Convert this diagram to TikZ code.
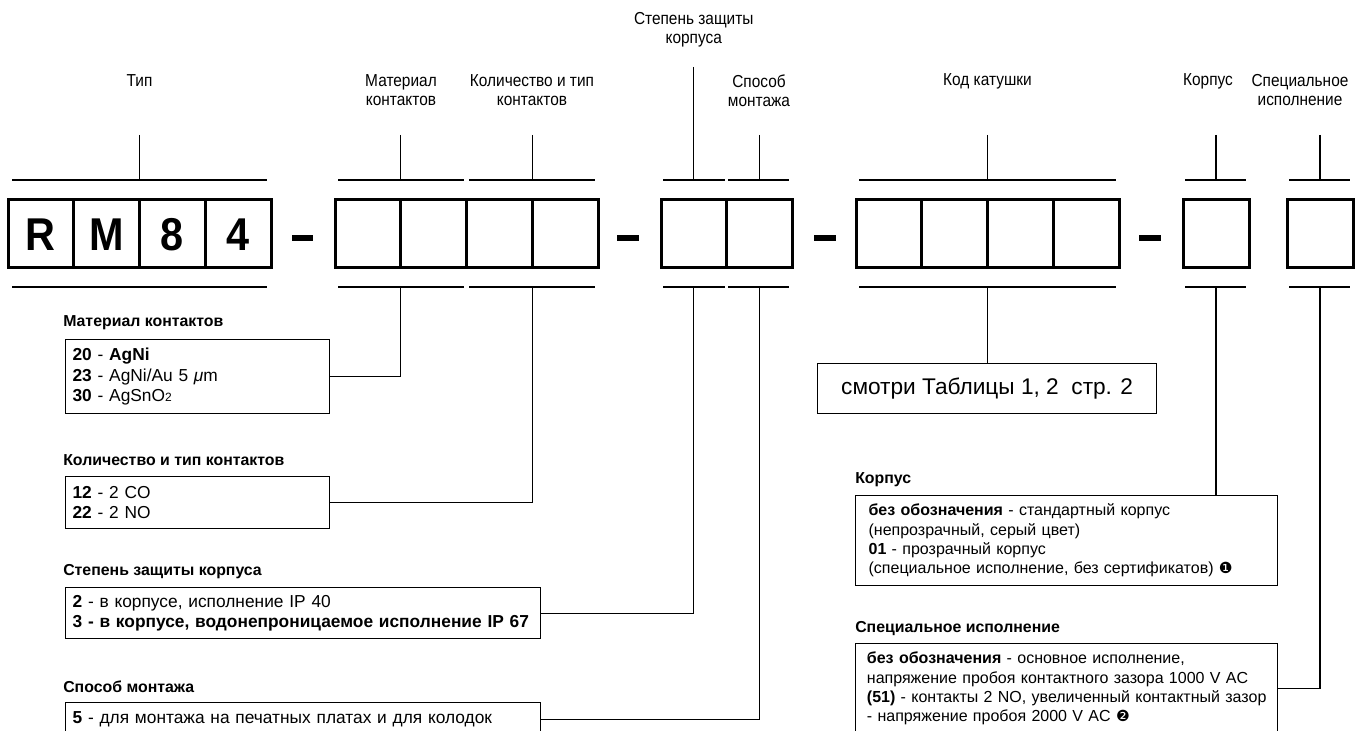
\documentclass[tikz,border=0pt]{standalone}
\usepackage{fontspec}
\setmainfont{Liberation Sans}
\newfontfamily\narrowfont{Liberation Sans}[FakeStretch=0.89]
\newfontfamily\bignarrow{Liberation Sans}[FakeStretch=0.9]
\newfontfamily\symfont{DejaVu Sans}
\begin{document}
\begin{tikzpicture}[x=0.75pt,y=-0.75pt,
  cellline/.style={line width=2.25pt},
  brk/.style={line width=1.5pt},
  tickline/.style={line width=1.1pt},
  conn/.style={line width=0.85pt},
  dashbar/.style={line width=4.5pt},
  infobox/.style={draw, line width=0.9pt, anchor=north west, align=left, inner ysep=0pt,
    font=\fontsize{13pt}{15.4pt}\selectfont},
  rightbox/.style={infobox, font=\fontsize{12pt}{14.5pt}\selectfont},
  boxhead/.style={anchor=west, inner sep=0pt, font=\fontsize{11.9pt}{13pt}\selectfont\bfseries},
  tophead/.style={align=center, inner sep=0pt, font=\narrowfont\fontsize{13pt}{14.25pt}\selectfont},
  letter/.style={inner sep=0pt, font=\bignarrow\bfseries\fontsize{34.5pt}{36pt}\selectfont}
]
\fill[white] (0,0) rectangle (1364,731);
\useasboundingbox (0,0) rectangle (1364,731);

% ---- top headings
\node[tophead] (hTip) at (139.5,81) {Тип};
\node[tophead] (hMat) at (401,90.5) {Материал\\контактов};
\node[tophead] (hKol) at (532,90.5) {Количество и тип\\контактов};
\node[tophead] (hSt) at (693.75,30) {Степень защиты\\корпуса};
\node[tophead] (hSp) at (759,90.5) {Способ\\монтажа};
\node[tophead] (hCode) at (987.5,81) {Код катушки};
\node[tophead] (hKorp) at (1208,81) {Корпус};
\node[tophead] (hSpec) at (1300,90.5) {Специальное\\исполнение};

% ---- top ticks and brackets
\foreach \n/\x/\ya in {a/139.5/135, b/400.75/135, c/532.25/135, d/693.75/67, e/759.25/135, f/987.5/135, g/1216/135, h/1320/135}{
  \coordinate (tt\n) at (\x,\ya);
  \coordinate (tb\n) at (\x,180);
  \draw[tickline] (tt\n) -- (tb\n);
}
\foreach \l/\r in {12/267, 338/464, 469/595, 663/725, 728/789, 859/1116, 1185/1246, 1289/1350}{
  \draw[brk] (\l,180) -- (\r,180);
  \draw[brk] (\l,287) -- (\r,287);
}

% ---- code cells
\draw[cellline] (8,200) rectangle (271,267);
\foreach \x in {73.75,139.5,205.25} \draw[cellline] (\x,200) -- (\x,267);
\draw[cellline] (335,200) rectangle (598,267);
\foreach \x in {400.75,466.5,532.25} \draw[cellline] (\x,200) -- (\x,267);
\draw[cellline] (661,200) rectangle (792,267);
\draw[cellline] (726.5,200) -- (726.5,267);
\draw[cellline] (856,200) rectangle (1119,267);
\foreach \x in {921.75,987.5,1053.25} \draw[cellline] (\x,200) -- (\x,267);
\draw[cellline] (1183,200) rectangle (1249,267);
\draw[cellline] (1287,200) rectangle (1353,267);

\node[letter] (lR) at (40.9,235) {R};
\node[letter] (lM) at (106.6,235) {M};
\node[letter] (l8) at (172.4,235) {8};
\node[letter] (l4) at (238.1,235) {4};

\draw[dashbar] (292,238) -- (313,238);
\draw[dashbar] (617,238) -- (639,238);
\draw[dashbar] (814,238) -- (836,238);
\draw[dashbar] (1139,238) -- (1161,238);

% ---- bottom bracket centres
\coordinate (bm) at (400.75,287);
\coordinate (bk) at (532.25,287);
\coordinate (bs) at (693.75,287);
\coordinate (bsp) at (759.25,287);
\coordinate (bc) at (987.5,287);
\coordinate (bko) at (1216,287);
\coordinate (bsc) at (1320,287);

% ---- left column
\node[boxhead] (tMat) at (63,323) {Материал контактов};
\node[infobox, inner xsep=5.25pt, text width=187.5pt, minimum height=55.5pt] (matbox) at (65,339)
 {\textbf{20} - \textbf{AgNi}\\
  \textbf{23} - AgNi/Au 5 {\itshape μ}m\\
  \textbf{30} - AgSnO{\fontsize{9pt}{9pt}\selectfont 2}};

\node[boxhead] (tKol) at (63,460) {Количество и тип контактов};
\node[infobox, inner xsep=5.25pt, text width=187.5pt, minimum height=39pt] (kolbox) at (65,476)
 {\textbf{12} - 2 CO\\
  \textbf{22} - 2 NO};

\node[boxhead] (tSt) at (63,572) {Степень защиты корпуса};
\node[infobox, inner xsep=5.25pt, text width=345.75pt, minimum height=38.25pt] (stepbox) at (65,587)
 {\mbox{\textbf{2} - в корпусе, исполнение IP 40}\\
  \mbox{\textbf{3 - в корпусе, водонепроницаемое исполнение IP 67}}};

\node[boxhead] (tSp) at (63,687) {Способ монтажа};
\node[infobox, inner xsep=5.25pt, text width=345.75pt, minimum height=25.5pt] (spbox) at (65,702)
 {\mbox{\textbf{5} - для монтажа на печатных платах и для колодок}};

% ---- code box
\node[draw, line width=0.9pt, anchor=north west, minimum width=254.25pt, minimum height=37.5pt,
  inner sep=0pt, font=\fontsize{17pt}{19pt}\selectfont] (codebox) at (817,363)
  {смотри Таблицы 1, 2~ стр. 2};

% ---- right column
\node[boxhead] (tKorp) at (855,480) {Корпус};
\node[rightbox, inner xsep=9.75pt, text width=297pt, minimum height=67.5pt] (korpbox) at (855,495)
 {\mbox{\textbf{без обозначения} - стандартный корпус}\\
  \mbox{(непрозрачный, серый цвет)}\\
  \mbox{\textbf{01} - прозрачный корпус}\\
  \mbox{(специальное исполнение, без сертификатов) {\symfont\fontsize{11.5pt}{12pt}\selectfont ❶}}};

\node[boxhead] (tSpec) at (855,629) {Специальное исполнение};
\node[rightbox, inner xsep=8.5pt, text width=299.5pt, minimum height=67.5pt] (specbox) at (855,643)
 {\mbox{\textbf{без обозначения} - основное исполнение,}\\
  \mbox{напряжение пробоя контактного зазора 1000 V AC}\\
  \mbox{\textbf{(51)} - контакты 2 NO, увеличенный контактный зазор}\\
  \mbox{- напряжение пробоя 2000 V AC {\symfont\fontsize{11.5pt}{12pt}\selectfont ❷}}};

% ---- connectors
\draw[conn] (bm) |- (matbox.east);
\draw[conn] (bk) |- (kolbox.east);
\draw[conn] (bs) |- (stepbox.east);
\draw[conn] (bsp) |- (spbox.east);
\draw[conn] (bc) -- (bc |- codebox.north);
\draw[conn] (bko) -- (bko |- korpbox.north);
\draw[conn] (bsc) |- (specbox.east);
\end{tikzpicture}
\end{document}
